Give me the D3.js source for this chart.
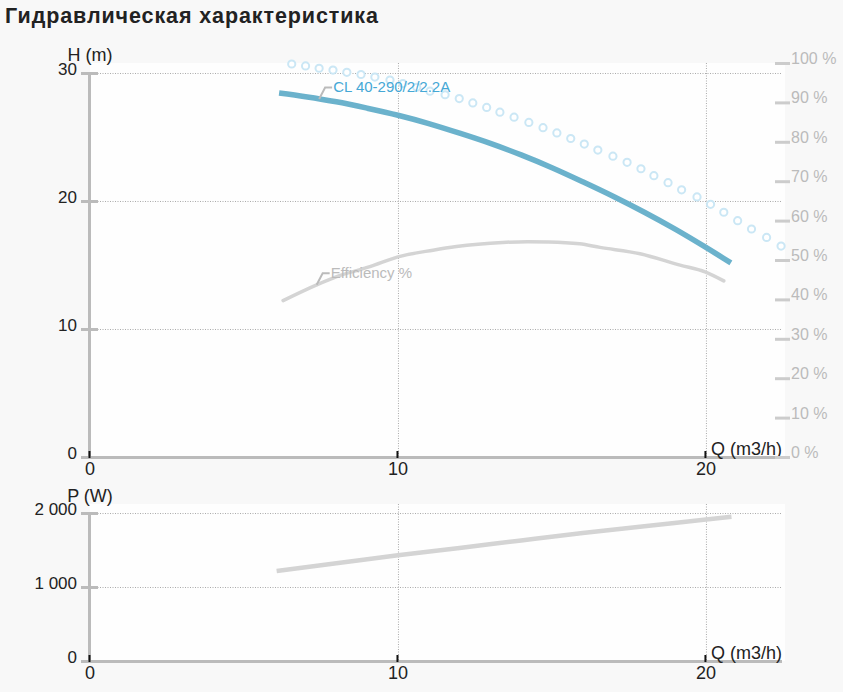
<!DOCTYPE html>
<html><head><meta charset="utf-8">
<script src="https://cdn.jsdelivr.net/npm/d3@7"></script>
<style>
html,body{margin:0;padding:0;background:#f8f8f8;}
svg{display:block;font-family:"Liberation Sans",Arial,Helvetica,sans-serif;}
</style></head>
<body>
<svg id="chart" width="843" height="692"></svg>
<script>
// ---------- data ----------
const title = "Гидравлическая характеристика";
const pumpName = "CL 40-290/2/2.2A";
const effLabel = "Efficiency %";

const headFlow = [6.14, 7, 8, 9, 10, 11, 12, 13, 14, 15, 16, 17, 18, 19, 20, 20.81];
const headValues = [28.44, 28.15, 27.75, 27.25, 26.7, 26.05, 25.3, 24.5, 23.6, 22.6, 21.5, 20.35, 19.12, 17.8, 16.37, 15.16];

const maxFlow = [6.55, 7.00, 7.44, 7.89, 8.34, 8.80, 9.25, 9.74, 10.16, 10.61, 11.04, 11.53, 11.99, 12.43, 12.88, 13.31, 13.77, 14.25, 14.71, 15.16, 15.61, 16.05, 16.49, 16.98, 17.44, 17.89, 18.31, 18.77, 19.21, 19.71, 20.15, 20.58, 21.03, 21.48, 21.97, 22.44];
const maxHead = [30.70, 30.55, 30.37, 30.23, 30.05, 29.88, 29.68, 29.45, 29.17, 28.88, 28.58, 28.30, 28.00, 27.66, 27.31, 26.94, 26.55, 26.14, 25.73, 25.32, 24.88, 24.45, 23.98, 23.50, 23.02, 22.52, 21.98, 21.43, 20.87, 20.32, 19.74, 19.12, 18.46, 17.81, 17.15, 16.48];

const effFlow = [6.27, 7.36, 8.01, 9.09, 10, 11.14, 11.9, 12.6, 13.4, 14.2, 14.9, 15.9, 16.56, 17.86, 19.16, 19.97, 20.58];
const effValues = [39.7, 43.7, 45.8, 48.3, 50.8, 52.5, 53.4, 54.0, 54.45, 54.65, 54.6, 54.1, 53.2, 51.6, 48.7, 47.0, 44.7];

const powerFlow = [6.06, 8, 10, 12, 14, 16, 18, 20, 20.83];
const powerValues = [1215, 1320, 1430, 1528, 1630, 1730, 1822, 1912, 1950];

const qTicks = [0, 10, 20];
const hTicks = [0, 10, 20, 30];
const pctTicks = [0, 10, 20, 30, 40, 50, 60, 70, 80, 90, 100];
const pTicks = [0, 1000, 2000];
const labelFlowHead = 7.44;
const labelFlowEff = 7.36;

// ---------- layout ----------
const L = 90, R = 782, BG_R = 785;
const top1 = 63, bot1 = 457, top2 = 504, bot2 = 661;

const svg = d3.select("#chart");
const fmt = d3.formatLocale({decimal: ",", thousands: " ", grouping: [3], currency: ["", ""]}).format(",");

const x = d3.scaleLinear().domain([0, 22.47]).range([L, R]);
const yH = d3.scaleLinear().domain([0, 30.78]).range([bot1, top1]);
const yPct = d3.scaleLinear().domain([0, 100]).range([bot1, top1]);
const yP = d3.scaleLinear().domain([0, 2122]).range([bot2, top2]);

// title
svg.append("text").attr("x", 5).attr("y", 23).attr("font-size", 21.5).attr("font-weight", "bold")
  .attr("letter-spacing", 0.9).attr("fill", "#222").text(title);

// plot backgrounds
svg.append("rect").attr("x", L).attr("y", top1).attr("width", BG_R - L).attr("height", bot1 - top1).attr("fill", "#fefefe");
svg.append("rect").attr("x", L).attr("y", top2).attr("width", BG_R - L).attr("height", bot2 - top2).attr("fill", "#fefefe");

const gridStyle = s => s.attr("stroke", "#aaa").attr("stroke-width", 1).attr("stroke-dasharray", "1,1.5").attr("fill", "none");

function drawPanel(yScale, ticks, top, bot, tickFmt, yTitle) {
  const g = svg.append("g");
  g.selectAll(".hg").data(ticks.filter(t => t > 0)).join("line")
    .attr("x1", L).attr("x2", R).attr("y1", d => yScale(d) + 0.5).attr("y2", d => yScale(d) + 0.5).call(gridStyle);
  g.selectAll(".vg").data(qTicks.filter(t => t > 0)).join("line")
    .attr("x1", d => x(d) + 0.5).attr("x2", d => x(d) + 0.5).attr("y1", top).attr("y2", bot).call(gridStyle);
  g.append("line").attr("x1", L - 0.5).attr("x2", L - 0.5).attr("y1", yScale(d3.max(ticks))).attr("y2", bot)
    .attr("stroke", "#bbb").attr("stroke-width", 3);
  g.append("line").attr("x1", L).attr("x2", R).attr("y1", bot + 0.5).attr("y2", bot + 0.5)
    .attr("stroke", "#bbb").attr("stroke-width", 3);
  g.selectAll(".yt").data(ticks).join("line")
    .attr("x1", L - 9).attr("x2", L + 8).attr("y1", d => yScale(d) + 0.5).attr("y2", d => yScale(d) + 0.5)
    .attr("stroke", "#bbb").attr("stroke-width", 3);
  g.selectAll(".yl").data(ticks).join("text")
    .attr("x", L - 13).attr("y", d => yScale(d) + 2).attr("text-anchor", "end")
    .attr("font-size", 17).attr("fill", "#222").text(tickFmt);
  g.selectAll(".xt").data(qTicks).join("line")
    .attr("x1", d => x(d) - 0.5).attr("x2", d => x(d) - 0.5).attr("y1", bot - 6).attr("y2", bot + 1)
    .attr("stroke", "#111").attr("stroke-width", 2);
  g.selectAll(".xl").data(qTicks).join("text")
    .attr("x", d => x(d)).attr("y", bot + 17.5).attr("text-anchor", "middle")
    .attr("font-size", 18).attr("fill", "#222").text(d => d);
  g.append("text").attr("x", L).attr("y", top - 2).attr("text-anchor", "middle")
    .attr("font-size", 18).attr("fill", "#222").text(yTitle);
  g.append("text").attr("x", R).attr("y", bot - 2).attr("text-anchor", "end")
    .attr("font-size", 18).attr("fill", "#222").text("Q (m3/h)");
}

drawPanel(yH, hTicks, top1, bot1, d => d, "H (m)");
drawPanel(yP, pTicks, top2, bot2, d => fmt(d), "P (W)");

// right percent axis
const gr = svg.append("g");
gr.selectAll("line").data(pctTicks).join("line")
  .attr("x1", 775).attr("x2", 790).attr("y1", d => yPct(d) + 0.5).attr("y2", d => yPct(d) + 0.5)
  .attr("stroke", "#ccc").attr("stroke-width", 3);
gr.selectAll("text").data(pctTicks).join("text")
  .attr("x", 791).attr("y", d => yPct(d) + 1).attr("font-size", 16).attr("fill", "#bbb")
  .text(d => d + " %");

// efficiency curve
const effData = effFlow.map((q, i) => [q, effValues[i]]);
svg.append("path").datum(effData)
  .attr("d", d3.line().x(d => x(d[0])).y(d => yPct(d[1])).curve(d3.curveMonotoneX))
  .attr("fill", "none").attr("stroke", "#d4d4d4").attr("stroke-width", 3.5).attr("stroke-linecap", "round");

// max-head circles
const maxData = maxFlow.map((q, i) => [q, maxHead[i]]);
svg.append("g").selectAll("circle").data(maxData).join("circle")
  .attr("cx", d => x(d[0])).attr("cy", d => yH(d[1])).attr("r", 3.6)
  .attr("fill", "#fff").attr("stroke", "#cbe7f5").attr("stroke-width", 2);

// head curve
const headData = headFlow.map((q, i) => [q, headValues[i]]);
svg.append("path").datum(headData)
  .attr("d", d3.line().x(d => x(d[0])).y(d => yH(d[1])).curve(d3.curveMonotoneX))
  .attr("fill", "none").attr("stroke", "#6bb2cc").attr("stroke-width", 5.5);

// power curve
const powData = powerFlow.map((q, i) => [q, powerValues[i]]);
svg.append("path").datum(powData)
  .attr("d", d3.line().x(d => x(d[0])).y(d => yP(d[1])).curve(d3.curveMonotoneX))
  .attr("fill", "none").attr("stroke", "#d4d4d4").attr("stroke-width", 4.5);

// labels with leader lines
function leader(px, py, text, color) {
  const ex = px + 6, ey = py - 11.5;
  svg.append("path").attr("d", `M${px},${py}L${ex},${ey}L${ex + 7},${ey}`)
    .attr("fill", "none").attr("stroke", "#bbb").attr("stroke-width", 2);
  svg.append("text").attr("x", ex + 8).attr("y", ey + 4.5).attr("font-size", 15).attr("fill", color).text(text);
}
const headInterp = d3.scaleLinear().domain(headFlow).range(headValues);
const effInterp = d3.scaleLinear().domain(effFlow).range(effValues);
leader(x(labelFlowHead), yH(headInterp(labelFlowHead)), pumpName, "#45a8d6");
leader(x(labelFlowEff), yPct(effInterp(labelFlowEff)), effLabel, "#bbb");
</script>
</body></html>
